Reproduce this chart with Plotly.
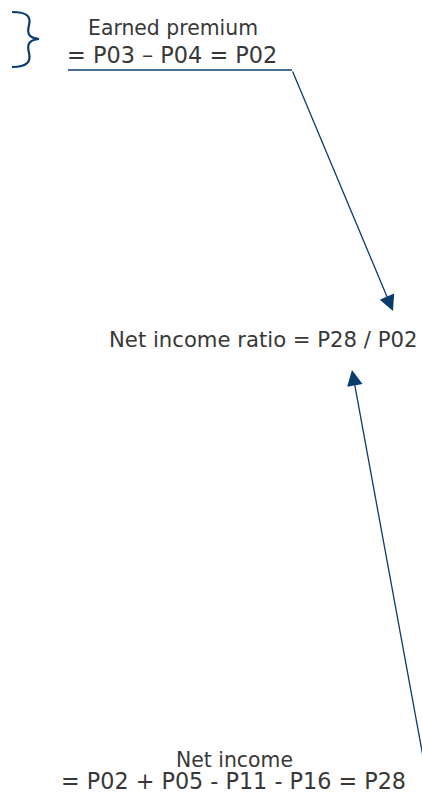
import plotly.graph_objects as go

W, H = 422, 799
NAVY = "#0b3c6e"
TEXT = "#383838"
FONT = "DejaVu Sans, Liberation Sans, sans-serif"

# Text lines: (label, x centre, y centre, size)
labels = ["Earned premium", "= P03 \u2013 P04 = P02", "Net income ratio = P28 / P02",
          "Net income", "= P02 + P05 - P11 - P16 = P28"]
label_x = [173, 172, 263, 234, 233]
label_y = [28, 55, 339, 760, 781]
label_size = [20.4, 22.4, 21.2, 20.4, 22.3]

# Underline under the earned-premium formula
underline_x = [68, 292]
underline_y = [70, 70]

# Arrows: start (tail) -> end (tip)
arrow_tail_x = [292, 424]
arrow_tail_y = [70, 762]
arrow_tip_x = [393, 352]
arrow_tip_y = [311, 370]

# Brace path
brace_path = ("M 12 12 C 28 12, 31 17, 29 25 C 27 33, 28 38, 39 39 "
              "C 28 40, 27 45, 29 53 C 31 61, 28 67, 12 67")

fig = go.Figure()
fig.add_trace(go.Scatter(x=underline_x, y=underline_y, mode="lines",
                         line=dict(color=NAVY, width=1.3), hoverinfo="skip",
                         showlegend=False))

for lab, x, y, s in zip(labels, label_x, label_y, label_size):
    fig.add_annotation(x=x, y=y, text=lab, showarrow=False, xanchor="center",
                       yanchor="middle", font=dict(family=FONT, size=s, color=TEXT))

for tx, ty, hx, hy in zip(arrow_tail_x, arrow_tail_y, arrow_tip_x, arrow_tip_y):
    fig.add_annotation(x=hx, y=hy, ax=tx, ay=ty, xref="x", yref="y",
                       axref="x", ayref="y", text="", showarrow=True,
                       arrowhead=2, arrowsize=2.4, arrowwidth=1.3,
                       arrowcolor=NAVY, standoff=0)

fig.add_shape(type="path", path=brace_path, xref="x", yref="y",
              line=dict(color=NAVY, width=2.2))

fig.update_xaxes(range=[0, W], visible=False, fixedrange=True)
fig.update_yaxes(range=[H, 0], visible=False, fixedrange=True)
fig.update_layout(width=W, height=H, margin=dict(l=0, r=0, t=0, b=0),
                  plot_bgcolor="white", paper_bgcolor="white", showlegend=False)

fig.write_html("out.html", config={"displayModeBar": False},
               post_script="document.body.style.margin='0';"
                           "document.body.style.overflow='hidden';")
